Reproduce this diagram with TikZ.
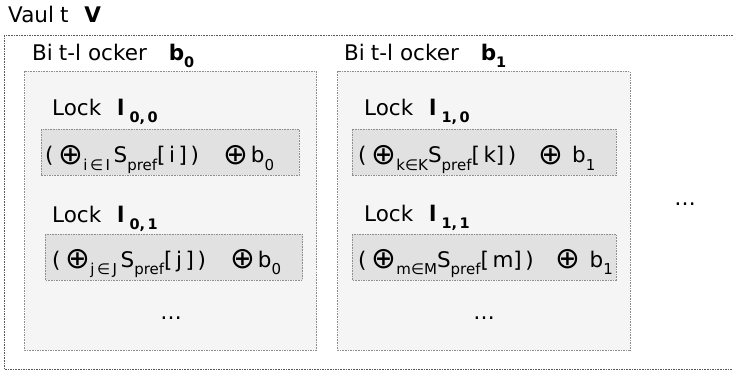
\documentclass[tikz,border=0pt]{standalone}
\usepackage{fontspec}
\setmainfont{DejaVu Sans}
\usepackage{graphicx}
\usepackage{tikz}
\usetikzlibrary{calc}

\definecolor{lockerfill}{HTML}{F5F5F5}
\definecolor{formfill}{HTML}{E1E1E1}
\definecolor{edgegray}{HTML}{8E8E8E}

\tikzset{
  vaultedge/.style={draw=black!65, dash pattern=on 1.6pt off 1pt, line width=0.9pt},
  lockeredge/.style={draw=edgegray, fill=lockerfill, dash pattern=on 1.6pt off 1pt, line width=0.7pt},
  formedge/.style={draw=edgegray, fill=formfill, dash pattern=on 1.6pt off 1pt, line width=0.7pt},
  lbl/.style={anchor=base west, inner sep=0pt, font=\fontsize{21.5}{25}\selectfont},
  more/.style={anchor=base, inner sep=0pt, font=\fontsize{21.5}{25}\selectfont}
}
\newcommand{\sbs}[1]{\raisebox{-8pt}{\fontsize{15}{15}\selectfont #1}}
\newcommand{\bsbs}[1]{\raisebox{-7pt}{\fontsize{14.5}{15}\selectfont\bfseries #1}}
\newcommand{\xor}{\raisebox{-1.5pt}{\scalebox{1.38}{⊕}}}
\newcommand{\locker}[4]{\draw[lockeredge] ( #1 , #2 ) rectangle ( #3 , #4 );}
\newcommand{\formcell}[4]{\draw[formedge] ( #1 , #2 ) rectangle ( #3 , #4 );}

\begin{document}
\begin{tikzpicture}[x=1pt,y=-1pt]
        \useasboundingbox (0,0) rectangle (733,371);
        % vault
        \draw[vaultedge] (4,35) rectangle (745,369.5);
        \node[lbl] (vault) at (8,23) {Vaul\kern6pt t\hspace{16pt}\textbf{V}};

        % bit-locker 0
        \locker{24.5}{71.5}{316.5}{350}
        \node[lbl] (blk0) at (32,61) {Bi\kern6pt t-l\kern7pt ocker\hspace{22pt}\textbf{b}\bsbs{0}};
        \node[lbl] (lk00) at (52,116) {Lock\hspace{16pt}\textbf{l}\hspace{5pt}\bsbs{0,\,0}};
        \formcell{41}{129}{299}{175.5}
        \node[lbl] (fm00) at (45,163) {(\hspace{5pt}\xor\sbs{i\,∈\,I}\,S\sbs{pref}[\,i\,]\,)\hspace{24pt}\xor\hspace{3pt}b\sbs{0}};
        \node[lbl] (lk01) at (52,223) {Lock\hspace{16pt}\textbf{l}\hspace{5pt}\bsbs{0,\,1}};
        \formcell{45}{234}{302.5}{280}
        \node[lbl] (fm01) at (52,267) {(\hspace{5pt}\xor\sbs{j\,∈\,J}\,S\sbs{pref}[\,j\,]\,)\hspace{24pt}\xor\hspace{3pt}b\sbs{0}};
        \node[more] (dots0) at (171,319) {…};

        % bit-locker 1
        \locker{337.5}{71.5}{630}{350}
        \node[lbl] (blk1) at (344,61) {Bi\kern6pt t-l\kern7pt ocker\hspace{22pt}\textbf{b}\bsbs{1}};
        \node[lbl] (lk10) at (364,116) {Lock\hspace{16pt}\textbf{l}\hspace{5pt}\bsbs{1,\,0}};
        \formcell{352}{129}{616}{175.5}
        \node[lbl] (fm10) at (358,163) {(\hspace{5pt}\xor\sbs{k∈K}S\sbs{pref}[\,k]\,)\hspace{22pt}\xor\hspace{9pt}b\sbs{1}};
        \node[lbl] (lk11) at (364,222) {Lock\hspace{16pt}\textbf{l}\hspace{5pt}\bsbs{1,\,1}};
        \formcell{352}{234}{616}{280}
        \node[lbl] (fm11) at (358,267) {(\hspace{5pt}\xor\sbs{m∈M}S\sbs{pref}[\,m]\,)\hspace{22pt}\xor\hspace{9pt}b\sbs{1}};
        \node[more] (dots1) at (484,319) {…};

        % further bit-lockers
        \node[more] (dotsv) at (685,206) {…};
    \end{tikzpicture}
\end{document}
